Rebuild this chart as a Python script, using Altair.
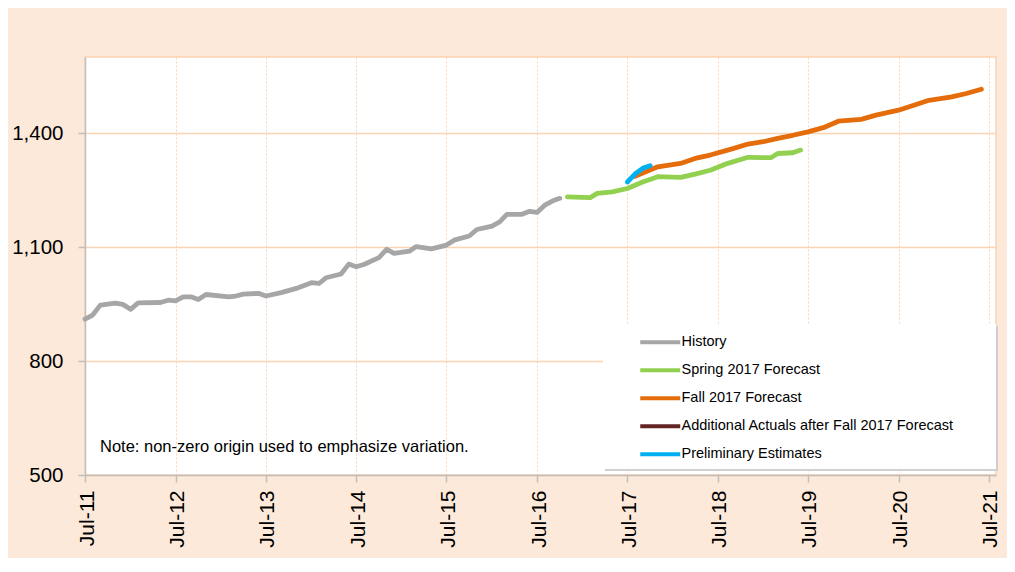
import altair as alt
import pandas as pd

series_names = ["History", "Spring 2017 Forecast", "Fall 2017 Forecast",
                "Additional Actuals after Fall 2017 Forecast", "Preliminary Estimates"]
series_colors = ["#A6A6A6", "#92D050", "#E46C0A", "#632523", "#00B0F0"]

history_dates = ["2011-07", "2011-08", "2011-09", "2011-11", "2011-12", "2012-01", "2012-02",
                 "2012-05", "2012-06", "2012-07", "2012-08", "2012-09", "2012-10", "2012-11",
                 "2013-02", "2013-03", "2013-04", "2013-06", "2013-07", "2013-09", "2013-11",
                 "2014-01", "2014-02", "2014-03", "2014-05", "2014-06", "2014-07", "2014-08",
                 "2014-10", "2014-11", "2014-12", "2015-02", "2015-03", "2015-05", "2015-07",
                 "2015-08", "2015-10", "2015-11", "2016-01", "2016-02", "2016-03", "2016-05",
                 "2016-06", "2016-07", "2016-08", "2016-09", "2016-10"]
history_values = [910, 921, 947, 952, 949, 936, 953,
                  954, 960, 958, 969, 969, 962, 975,
                  969, 971, 976, 978, 971, 980, 991,
                  1006, 1004, 1019, 1029, 1055, 1048, 1054,
                  1072, 1094, 1083, 1089, 1101, 1095, 1105,
                  1118, 1129, 1146, 1155, 1166, 1186, 1186,
                  1194, 1191, 1210, 1221, 1228]

spring_dates = ["2016-11", "2017-02", "2017-03", "2017-05", "2017-07", "2017-09", "2017-11",
                "2018-02", "2018-04", "2018-06", "2018-08", "2018-11", "2019-02", "2019-03",
                "2019-05", "2019-06"]
spring_values = [1232, 1230, 1241, 1245, 1254, 1271, 1285,
                 1283, 1292, 1302, 1318, 1336, 1335, 1346,
                 1348, 1355]

fall_dates = ["2017-08", "2017-11", "2018-02", "2018-04", "2018-06", "2018-09", "2018-11",
              "2019-01", "2019-03", "2019-05", "2019-07", "2019-09", "2019-11", "2020-02",
              "2020-04", "2020-07", "2020-09", "2020-11", "2021-02", "2021-04", "2021-06"]
fall_values = [1286, 1311, 1320, 1333, 1342, 1359, 1371,
               1377, 1386, 1394, 1403, 1414, 1431, 1436,
               1447, 1460, 1473, 1486, 1495, 1504, 1515]

prelim_dates = ["2017-07", "2017-08", "2017-09", "2017-10"]
prelim_values = [1271, 1292, 1307, 1314]

y_ticks = [500, 800, 1100, 1400]
x_tick_years = list(range(2011, 2022))
note_text = "Note: non-zero origin used to emphasize variation."

rows = []
for name, dates, vals in [(series_names[0], history_dates, history_values),
                          (series_names[1], spring_dates, spring_values),
                          (series_names[2], fall_dates, fall_values),
                          (series_names[4], prelim_dates, prelim_values)]:
    for d, v in zip(dates, vals):
        rows.append({"series": name, "date": d + "-01", "value": v})
df = pd.DataFrame(rows)

FONT = "Liberation Sans"
GRID = "#FBD4B4"
AXIS = "#BFBFBF"

x_enc = alt.X(
    "date:T",
    title=None,
    scale=alt.Scale(domain=[alt.DateTime(year=2011, month=7, date=1),
                            alt.DateTime(year=2021, month=7, date=30)]),
    axis=alt.Axis(values=[alt.DateTime(year=y, month=7, date=1) for y in x_tick_years],
                  format="%b-%y", labelAngle=-90, labelFontSize=21, labelPadding=8,
                  labelOffset=2,
                  tickSize=7, grid=True, gridDash=[2, 2], gridColor=GRID, gridWidth=1),
)
y_enc = alt.Y(
    "value:Q",
    title=None,
    scale=alt.Scale(domain=[500, 1600], nice=False, zero=False),
    axis=alt.Axis(values=y_ticks, format=",.0f", labelFontSize=20.5, labelPadding=15,
                  tickSize=7, grid=True, gridColor=GRID, gridWidth=1.5),
)

lines = alt.Chart(df).mark_line(strokeWidth=4.8, strokeCap="round", strokeJoin="round").encode(
    x=x_enc,
    y=y_enc,
    color=alt.Color(
        "series:N",
        scale=alt.Scale(domain=series_names, range=series_colors),
        legend=alt.Legend(title=None, orient="none", legendX=568, legendY=278,
                          symbolType="M-4,0H4", symbolSize=100, symbolStrokeWidth=4,
                          labelFontSize=14.5, labelFont=FONT, labelColor="#000000",
                          rowPadding=11, labelOffset=14, padding=0, labelLimit=400),
    ),
    order=alt.Order("date:T"),
)

box_df = pd.DataFrame({"k": [1]})
shadow = alt.Chart(box_df).mark_rect(color="#D0D0D0").encode(
    x=alt.value(520), x2=alt.value(913), y=alt.value(269), y2=alt.value(414))
box = alt.Chart(box_df).mark_rect(color="#FFFFFF").encode(
    x=alt.value(518), x2=alt.value(911), y=alt.value(267), y2=alt.value(412))

note = alt.Chart(pd.DataFrame({"note": [note_text]})).mark_text(
    align="left", baseline="alphabetic", fontSize=16.5, font=FONT, color="#000000"
).encode(x=alt.value(15), y=alt.value(395), text="note:N")

chart = alt.layer(shadow, box, note, lines).properties(
    width=911, height=418,
    background="#FDE9D9",
    padding={"left": 77, "top": 49, "right": 11, "bottom": 83},
    autosize=alt.AutoSizeParams(type="none"),
).configure_view(
    fill="#FFFFFF", stroke=GRID, strokeWidth=1.5
).configure_axis(
    labelFont=FONT, labelColor="#000000", domainColor=AXIS, tickColor=AXIS,
    domainWidth=1.5, tickWidth=1.5
)

chart.save("out.html", embed_options={"renderer": "svg", "actions": False})
